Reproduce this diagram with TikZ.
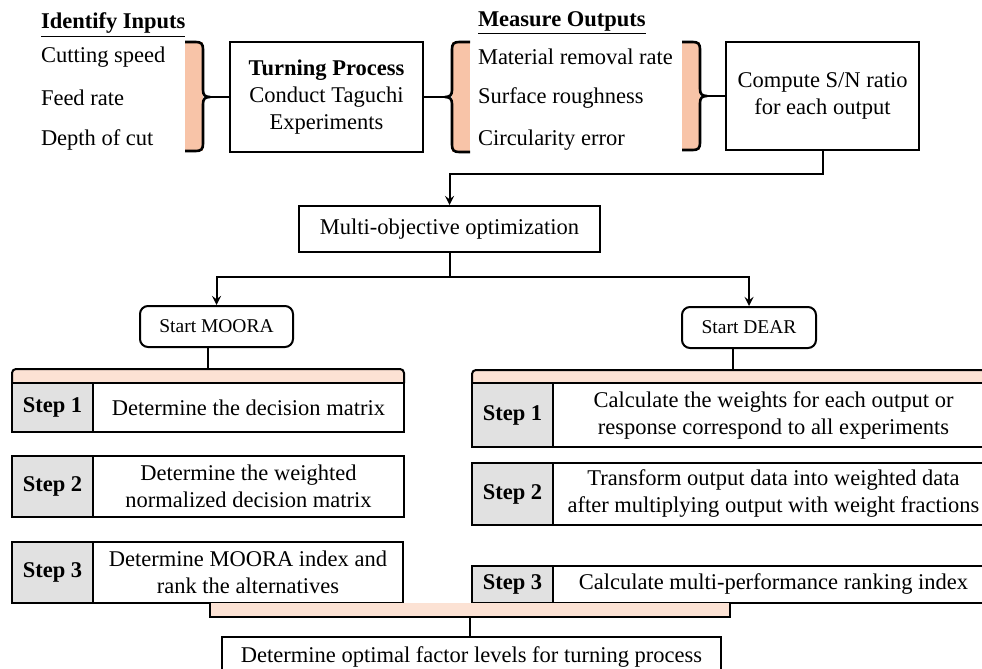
\documentclass[tikz,border=0pt]{standalone}
\usepackage{fontspec}
\setmainfont{Liberation Serif}[BoldFont={Liberation Serif Bold}]
\definecolor{peach}{RGB}{248,196,168}
\definecolor{band}{RGB}{252,226,212}
\definecolor{stepgray}{RGB}{225,225,225}
\tikzset{
  box/.style={draw,align=center,inner sep=1pt},
  item/.style={anchor=west,inner sep=0pt},
  startbox/.style={draw,rounded corners=4pt,minimum height=20.5pt,inner sep=1pt,font=\rmfamily\fontsize{9.75}{11}\selectfont},
  stepbox/.style={draw,fill=stepgray,minimum width=40.5pt,inner sep=1pt,font=\rmfamily\fontsize{11.25}{13.5}\selectfont\bfseries},
  brace/.style={line width=1.3pt,line join=round}
}
\begin{document}
\begin{tikzpicture}[>=stealth,x=0.5pt,y=-0.5pt,line width=1pt,every node/.style={font=\rmfamily\fontsize{11.25}{13.5}\selectfont}]
\useasboundingbox (0,0) rectangle (982,669);
% inputs
\node[item] (inT) at (40,25) {\underline{\textbf{Identify Inputs}}};
\node[item] (inA) at (40,57) {Cutting speed};
\node[item] (inB) at (40,98) {Feed rate};
\node[item] (inC) at (40,140) {Depth of cut};
\fill[peach] (185,42) rectangle (203,151);
\draw[brace] (185,42) -- (196,42) .. controls (201,42) and (203,44) .. (203,49) -- (203,90) .. controls (203,95) and (205,97) .. (210,97) .. controls (205,97) and (203,99) .. (203,104) -- (203,144) .. controls (203,149) and (201,151) .. (196,151) -- (185,151);
\coordinate (bA) at (210,97);
\node[box,minimum width=96.5pt,minimum height=55pt] (turn) at (326.5,97) {\textbf{Turning Process}\\Conduct Taguchi\\Experiments};
\draw (bA) -- (turn.west);
% outputs
\fill[peach] (452,42) rectangle (470,152);
\draw[brace] (470,42) -- (459,42) .. controls (454,42) and (452,44) .. (452,49) -- (452,90) .. controls (452,95) and (450,97) .. (445,97) .. controls (450,97) and (452,99) .. (452,104) -- (452,145) .. controls (452,150) and (454,152) .. (459,152) -- (470,152);
\coordinate (bB) at (445,97);
\draw (turn.east) -- (bB);
\node[item] (outT) at (477,23) {\underline{\textbf{Measure Outputs}}};
\node[item] (outA) at (477,57) {Material removal rate};
\node[item] (outB) at (477,98) {Surface roughness};
\node[item] (outC) at (477,140) {Circularity error};
\fill[peach] (682,42) rectangle (700,150);
\draw[brace] (682,42) -- (693,42) .. controls (698,42) and (700,44) .. (700,49) -- (700,89) .. controls (700,94) and (702,96) .. (707,96) .. controls (702,96) and (700,98) .. (700,103) -- (700,143) .. controls (700,148) and (698,150) .. (693,150) -- (682,150);
\coordinate (bC) at (707,96);
\node[box,minimum width=96.5pt,minimum height=54pt] (sn) at (822.5,96) {Compute S/N ratio\\for each output};
\draw (bC) -- (sn.west);
% optimization
\node[box,minimum width=150.5pt,minimum height=23pt] (multi) at (449.5,229) {Multi-objective optimization};
\coordinate (j1) at (449.5,174);
\draw[->] (sn.south) |- (j1) -- (multi.north);
\node[startbox,minimum width=76.5pt] (moora) at (216.5,326.5) {Start MOORA};
\node[startbox,minimum width=67pt] (dear) at (749,327.5) {Start DEAR};
\coordinate (j2) at (449.5,277);
\draw (multi.south) -- (j2);
\draw[->] (j2) -| (moora.north);
\draw[->] (j2) -| (dear.north);
% MOORA steps
\fill[band,rounded corners=2pt] (12,383) -- (12,369) -- (404,369) -- (404,383) -- cycle;
\draw[rounded corners=2pt] (12,383) -- (12,369) -- (404,369) -- (404,383);
\coordinate (mtop) at (208,369);
\draw (moora.south -| mtop) -- (mtop);
\node[stepbox,minimum height=24.5pt] (m1l) at (52.5,407.5) {Step 1};
\node[box,minimum width=155.5pt,minimum height=24.5pt] (m1t) at (248.5,407.5) {Determine the decision matrix};
\node[stepbox,minimum height=30.5pt] (m2l) at (52.5,486.5) {Step 2};
\node[box,minimum width=155.5pt,minimum height=30.5pt] (m2t) at (248.5,486.5) {Determine the weighted\\normalized decision matrix};
\node[stepbox,minimum height=30.5pt] (m3l) at (52.5,572.5) {Step 3};
\node[box,minimum width=155pt,minimum height=30.5pt] (m3t) at (248,572.5) {Determine MOORA index and\\rank the alternatives};
% DEAR steps
\fill[band,rounded corners=2pt] (472,383) -- (472,370) -- (994,370) -- (994,383) -- cycle;
\draw[rounded corners=2pt] (472,383) -- (472,370) -- (994,370) -- (994,383);
\coordinate (dtop) at (733,370);
\draw (dear.south -| dtop) -- (dtop);
\node[stepbox,minimum height=32pt] (d1l) at (512.5,415) {Step 1};
\node[box,minimum width=220.5pt,minimum height=32pt] (d1t) at (773.5,415) {Calculate the weights for each output or\\response correspond to all experiments};
\node[stepbox,minimum height=31pt] (d2l) at (512.5,494) {Step 2};
\node[box,minimum width=220.5pt,minimum height=31pt] (d2t) at (773.5,494) {Transform output data into weighted data\\after multiplying output with weight fractions};
\node[stepbox,minimum height=18.5pt] (d3l) at (512.5,584.5) {Step 3};
\node[box,minimum width=220.5pt,minimum height=18.5pt] (d3t) at (773.5,584.5) {Calculate multi-performance ranking index};
% final
\fill[band] (210,603) rectangle (730,617);
\draw (210,603) -- (210,617) -- (730,617) -- (730,603);
\coordinate (bk) at (470,617);
\node[box,minimum width=249.5pt,minimum height=20pt] (final) at (471.5,657) {Determine optimal factor levels for turning process};
\draw (bk) -- (bk |- final.north);
\end{tikzpicture}
\end{document}
